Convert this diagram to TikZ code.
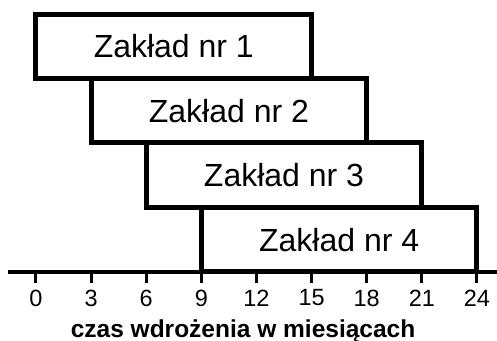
\documentclass[tikz,border=0pt]{standalone}
\usepackage{fontspec}
\setmainfont{Liberation Sans}

\begin{document}
\begin{tikzpicture}[
    x=18.375pt,
    y=1pt,
    zaklad/.style={
      rectangle,
      draw,
      line width=5pt,
      inner sep=0pt,
      outer sep=0pt,
      anchor=south west,
      minimum width=275.6pt,
      minimum height=64.5pt,
      font=\fontsize{32}{38}\selectfont,
    },
    axis/.style={line width=3.5pt},
    tick/.style={line width=3pt},
  ]
  \useasboundingbox (-1.959,-69) rectangle (25.09,272);

  % Zaklady, od dolu
  \foreach \i/\m in {4/9,3/6,2/3,1/0} {
    \node[zaklad] (z\i) at (\m,{(4-\i)*64.5}) {Zakład nr \i};
  }

  % Os czasu
  \coordinate (os0) at (-1.52,0);
  \coordinate (os1) at (25.09,0);
  \draw[axis] (os0) -- (os1);

  \foreach \m in {0,3,...,24} {
    \coordinate (k\m) at (\m,0);
    \draw[tick] (k\m) -- ++(0,-11);
    \node[font=\fontsize{23.5}{28}\selectfont] (t\m) at (\m,-26) {\m};
  }

  \node[font=\fontsize{24.5}{29}\selectfont\bfseries] (opis) at (11.27,-59)
    {czas wdrożenia w miesiącach};
\end{tikzpicture}
\end{document}
